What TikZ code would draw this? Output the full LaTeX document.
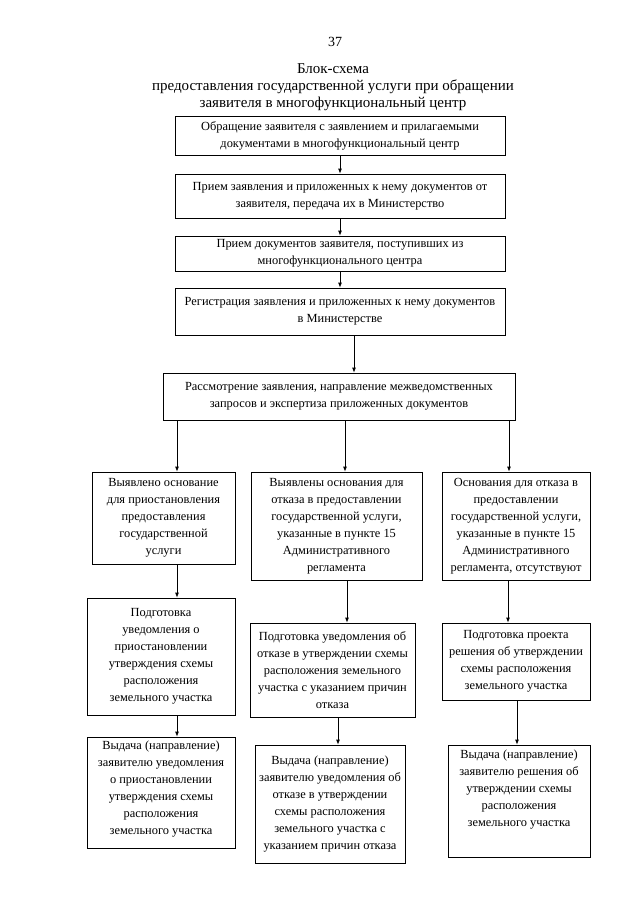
\documentclass[tikz,border=0pt]{standalone}
\usepackage{fontspec}
\setmainfont{Liberation Serif}
\usetikzlibrary{arrows.meta}
\tikzset{
  box/.style={draw, line width=0.8pt, inner sep=0pt, align=center,
    font=\fontsize{12.4}{17}\selectfont},
  txt/.style={inner sep=0pt, align=center, font=\fontsize{12.4}{17}\selectfont},
  arr/.style={line width=0.8pt, -{Latex[length=5pt,width=4pt]}},
}
\begin{document}
\begin{tikzpicture}[x=1pt,y=-1pt]
\useasboundingbox (0,0) rectangle (640,905);
\fill[white] (0,0) rectangle (640,905);
\node[inner sep=0pt, font=\fontsize{14}{17}\selectfont] (pg) at (335,42) {37};
\node[inner sep=0pt, align=center, font=\fontsize{15}{17}\selectfont] (title) at (333,87)
  {Блок-схема\\предоставления государственной услуги при обращении\\заявителя в многофункциональный центр};

\node[box, minimum width=330pt, minimum height=39pt] (b1) at (340,135.5)
  {Обращение заявителя с заявлением и прилагаемыми\\документами в многофункциональный центр};
\node[box, minimum width=330pt, minimum height=44pt] (b2) at (340,196)
  {Прием заявления и приложенных к нему документов от\\заявителя, передача их в Министерство};
\node[box, minimum width=330pt, minimum height=35pt] (b3) at (340,253.5)
  {Прием документов заявителя, поступивших из\\многофункционального центра};
\node[box, minimum width=330pt, minimum height=47pt] (b4) at (340,311.5)
  {Регистрация заявления и приложенных к нему документов\\в Министерстве};
\node[box, minimum width=352pt, minimum height=47pt] (b5) at (339,396.5)
  {Рассмотрение заявления, направление межведомственных\\запросов и экспертиза приложенных документов};

\node[box, minimum width=143pt, minimum height=92pt] (b6) at (163.5,518)
  {Выявлено основание\\для приостановления\\предоставления\\государственной\\услуги};
\node[box, minimum width=171pt, minimum height=108pt] (b7) at (336.5,526)
  {Выявлены основания для\\отказа в предоставлении\\государственной услуги,\\указанные в пункте 15\\Административного\\регламента};
\node[box, minimum width=148pt, minimum height=108pt] (b8) at (516,526)
  {Основания для отказа в\\предоставлении\\государственной услуги,\\указанные в пункте 15\\Административного\\регламента, отсутствуют};

\node[box, minimum width=148pt, minimum height=117pt] (b9) at (161,656.5)
  {Подготовка\\уведомления о\\приостановлении\\утверждения схемы\\расположения\\земельного участка};
\node[box, minimum width=165pt, minimum height=94pt] (b10) at (332.5,670)
  {Подготовка уведомления об\\отказе в утверждении схемы\\расположения земельного\\участка с указанием причин\\отказа};
\node[box, minimum width=148pt, minimum height=77pt] (b11) at (516,661.5)
  {Подготовка проекта\\решения об утверждении\\схемы расположения\\земельного участка};

\node[box, minimum width=148pt, minimum height=111pt] (b12) at (161,792.5) {};
\node[txt] (t12) at (161,789) {Выдача (направление)\\заявителю уведомления\\о приостановлении\\утверждения схемы\\расположения\\земельного участка};
\node[box, minimum width=150pt, minimum height=118pt] (b13) at (330,804)
  {Выдача (направление)\\заявителю уведомления об\\отказе в утверждении\\схемы расположения\\земельного участка с\\указанием причин отказа};
\node[box, minimum width=142pt, minimum height=112pt] (b14) at (519,801) {};
\node[txt] (t14) at (519,790) {Выдача (направление)\\заявителю решения об\\утверждении схемы\\расположения\\земельного участка};

\draw[arr] (b1.south) -- (b2.north);
\draw[arr] (b2.south) -- (b3.north);
\draw[arr] (b3.south) -- (b4.north);
\draw[arr] (b4.south -| 354,0) -- (b5.north -| 354,0);
\draw[arr] (b5.south -| 177,0) -- (b6.north -| 177,0);
\draw[arr] (b5.south -| 345,0) -- (b7.north -| 345,0);
\draw[arr] (b5.south -| 509,0) -- (b8.north -| 509,0);
\draw[arr] (b6.south -| 177,0) -- (b9.north -| 177,0);
\draw[arr] (b7.south -| 347,0) -- (b10.north -| 347,0);
\draw[arr] (b8.south -| 508,0) -- (b11.north -| 508,0);
\draw[arr] (b9.south -| 177,0) -- (b12.north -| 177,0);
\draw[arr] (b10.south -| 338,0) -- (b13.north -| 338,0);
\draw[arr] (b11.south -| 517,0) -- (b14.north -| 517,0);
\end{tikzpicture}
\end{document}
